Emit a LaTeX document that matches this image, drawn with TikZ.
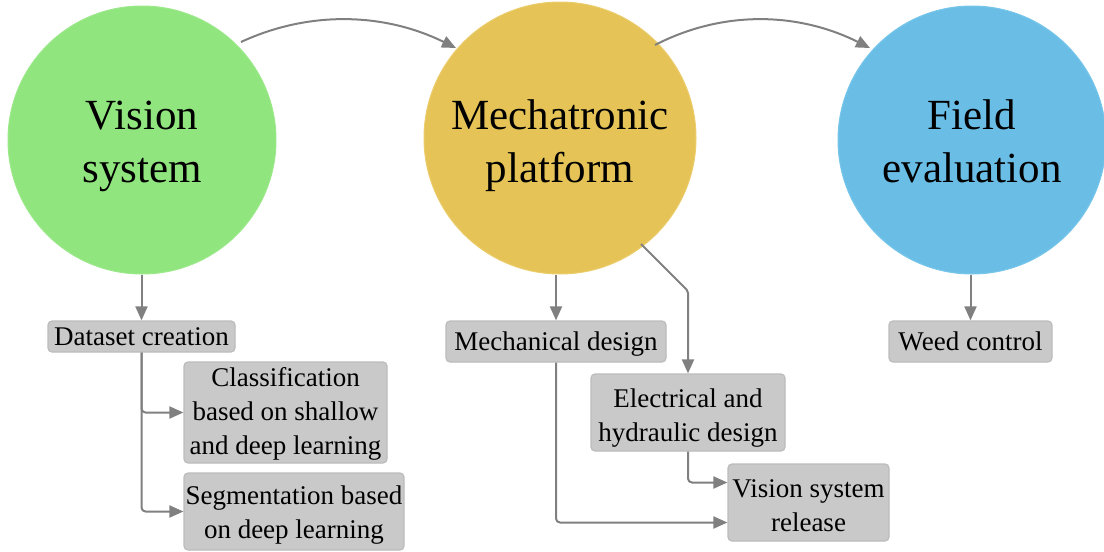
\documentclass[tikz,border=0pt]{standalone}
\usepackage{fontspec}
\setmainfont{Liberation Serif}
\usetikzlibrary{arrows.meta}
\definecolor{cgreen}{RGB}{144,229,126}
\definecolor{cgreenb}{RGB}{155,233,138}
\definecolor{cyellow}{RGB}{229,195,86}
\definecolor{cyellowb}{RGB}{236,205,110}
\definecolor{cblue}{RGB}{106,190,230}
\definecolor{cblueb}{RGB}{120,198,236}
\definecolor{boxfill}{RGB}{201,201,201}
\definecolor{boxline}{RGB}{188,188,188}
\definecolor{link}{RGB}{128,128,128}
\tikzset{
  stage/.style={circle, minimum size=268pt, inner sep=0pt, line width=1pt},
  stagetext/.style={align=center, inner sep=0pt, text depth=0pt, yshift=-3pt,
    font=\fontsize{43}{53}\selectfont},
  task/.style={rounded corners=4pt, fill=boxfill, draw=boxline, line width=1.2pt,
    align=center, inner sep=0pt, text depth=0pt, font=\fontsize{27}{34}\selectfont},
  tasktext/.style={align=center, inner sep=0pt, text depth=0pt, font=\fontsize{27}{34}\selectfont},
  flow/.style={draw=link, line width=2pt, -{Triangle[length=14pt,width=12pt]}},
}
\begin{document}
\begin{tikzpicture}[x=1pt,y=-1pt]
\useasboundingbox (0,0) rectangle (1104,552);

% main stages
\node[stage, fill=cgreen, draw=cgreenb] (vis) at (142,140) {};
\node[stage, fill=cyellow, draw=cyellowb, minimum size=272pt] (mech) at (560,138) {};
\node[stage, fill=cblue, draw=cblueb] (field) at (972,140) {};
\node[stagetext] (vis-t) at ([yshift=1pt]vis.center) {Vision\\system};
\node[stagetext] (mech-t) at (mech.center) {Mechatronic\\platform};
\node[stagetext] (field-t) at ([yshift=2pt]field.center) {Field\\evaluation};

% tasks
\node[task, minimum width=187pt, minimum height=31pt] (data) at (141.5,336.5) {Dataset creation};
\node[task, minimum width=203pt, minimum height=101pt, text depth=4pt] (cls) at (285.5,412.5) {Classification\\based on shallow\\and deep learning};
\node[task, minimum width=220pt, minimum height=77pt] (seg) at (294,511.5) {};
\node[tasktext] (seg-t) at ([yshift=-1pt]seg.center) {Segmentation based\\on deep learning};
\node[task, minimum width=220pt, minimum height=41pt] (mdes) at (556,341.5) {Mechanical design};
\node[task, minimum width=194pt, minimum height=77pt] (edes) at (688,412.5) {};
\node[tasktext] (edes-t) at ([yshift=-3pt]edes.center) {Electrical and\\hydraulic design};
\node[task, minimum width=161pt, minimum height=77pt] (rel) at (808.5,502.5) {};
\node[tasktext] (rel-t) at ([yshift=-3pt]rel.center) {Vision system\\release};
\node[task, minimum width=163pt, minimum height=41pt] (weed) at (970.5,341.5) {Weed control};

% helper points
\coordinate (diagS) at (641,244);
\coordinate (diagK) at (688,291);
\coordinate (arcA1) at (241,42);
\coordinate (arcA2) at (456,48);
\coordinate (arcB1) at (655,45);
\coordinate (arcB2) at (870,48);

% connectors between stages
\draw[flow] (arcA1) .. controls (310,10) and (385,13) .. (arcA2);
\draw[flow] (arcB1) .. controls (725,9) and (800,13) .. (arcB2);

% connectors to tasks
\draw[flow] (vis.south -| data.north) -- (data.north);
\draw[flow, rounded corners=4pt] (data.south) |- (cls.west);
\draw[flow, rounded corners=4pt] (data.south) |- (seg.west);
\draw[flow] (mech.south -| mdes.north) -- (mdes.north);
\draw[flow, rounded corners=2pt] (diagS) -- (diagK) -- (edes.north);
\draw[flow, rounded corners=4pt] (mdes.south) |- ([yshift=-20pt]rel.west);
\draw[flow, rounded corners=4pt] (edes.south) |- ([yshift=20pt]rel.west);
\draw[flow] (field.south -| weed.north) -- (weed.north);
\end{tikzpicture}
\end{document}
